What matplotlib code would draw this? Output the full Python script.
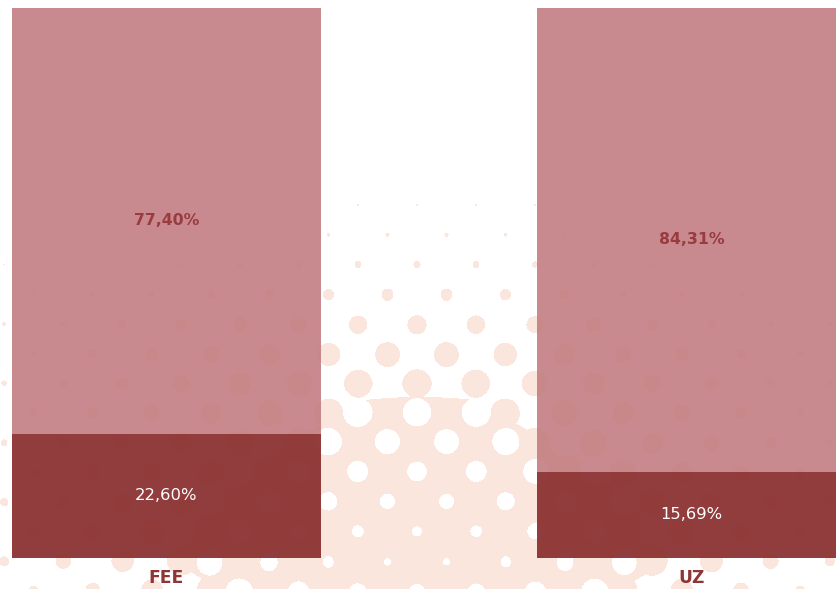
import numpy as np
import matplotlib
matplotlib.use("Agg")
import matplotlib.pyplot as plt

# data
categories = ["FEE", "UZ"]
lower_share = [22.60, 15.69]
upper_share = [77.40, 84.31]
lower_labels = ["22,60%", "15,69%"]
upper_labels = ["77,40%", "84,31%"]

W, H = 836, 589
dark_red = "#8E3636"
light_red = "#BF767A"
peach = np.array([251, 230, 221]) / 255.0

fig = plt.figure(figsize=(W / 100, H / 100), dpi=100)
ax = fig.add_axes([0, 0, 1, 1])

x = np.arange(len(categories))
bar_w = 0.5886
xlim = (-0.3171, 1.2752)
ylim = (-5.636, 101.45)

# halftone background (decoration only): peach dots, then white holes lower down
px, py = np.meshgrid(np.arange(W) + 0.5, np.arange(H) + 0.5)
u = (px - 358) / 59.0 + (py - 205) / 59.4
v = (px - 358) / 59.0 - (py - 205) / 59.4
cell = 41.9
d_dot = cell * np.hypot(u - np.round(u), v - np.round(v))
d_hole = cell * np.hypot(u - (np.floor(u) + 0.5), v - (np.floor(v) + 0.5))
prof_y = [0, 190, 205, 235, 265, 294, 324, 354, 383, 395, 401, 410, 440, 470, 500, 530, 560, 589]
prof_c = [0, 0, 0.035, 0.07, 0.12, 0.2, 0.32, 0.42, 0.5, 0.49, 0.52, 0.52, 0.58, 0.67, 0.75, 0.83, 0.9, 0.74]
cov = np.interp(py, prof_y, prof_c) * np.exp(-((px - 420) / 320.0) ** 2)
mask = np.where(cov <= 0.5, d_dot < 30 * cov, d_hole > 30 * (1 - cov))
bg = np.ones((H, W, 3))
bg[mask] = peach
ax.imshow(bg, extent=(xlim[0], xlim[1], ylim[0], ylim[1]), origin="upper",
          aspect="auto", zorder=0, interpolation="bilinear")

ax.bar(x, lower_share, width=bar_w, color=dark_red, alpha=0.97, zorder=2)
ax.bar(x, upper_share, bottom=lower_share, width=bar_w, color=light_red,
       alpha=0.85, zorder=2)

for i in range(len(categories)):
    ax.text(x[i], lower_share[i] / 2, lower_labels[i], ha="center", va="center",
            color="white", fontsize=11.8, family="DejaVu Sans", zorder=3)
    ax.text(x[i], lower_share[i] + upper_share[i] / 2, upper_labels[i],
            ha="center", va="center", color="#9A3B40", fontsize=11.3,
            family="DejaVu Sans", fontweight="bold", zorder=3)
    ax.text(x[i], -3.7, categories[i], ha="center", va="center",
            color="#8E3535", fontsize=12.3, family="DejaVu Sans",
            fontweight="bold", zorder=3)

ax.set_xlim(*xlim)
ax.set_ylim(*ylim)
ax.axis("off")

fig.savefig("out.png", dpi=100)
